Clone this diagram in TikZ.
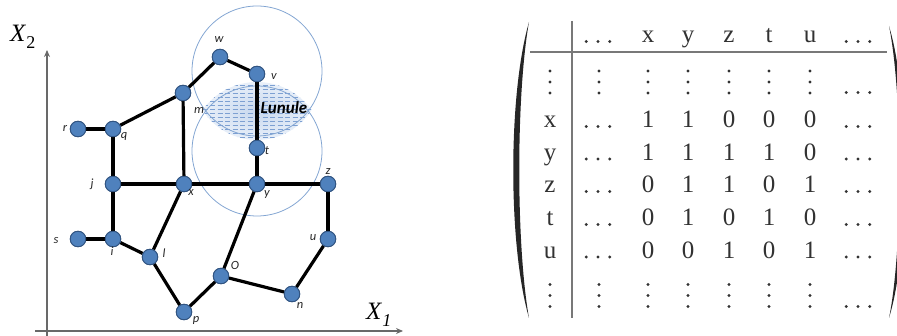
\documentclass[tikz,border=0pt]{standalone}
\usepackage{fontspec}
\setmainfont{Liberation Serif}
\newfontfamily\lblfont{Carlito}
\usetikzlibrary{arrows.meta,calc}
\definecolor{nodefill}{RGB}{79,129,189}
\definecolor{nodeedge}{RGB}{50,85,130}
\definecolor{ringcol}{RGB}{130,165,210}
\definecolor{axiscol}{RGB}{105,105,105}
\definecolor{rulecol}{RGB}{120,120,120}
\definecolor{txtcol}{RGB}{50,50,50}
\definecolor{lensdash}{RGB}{125,160,210}
\tikzset{
 vert/.style={circle, fill=nodefill, draw=nodeedge, line width=0.9pt, minimum size=15.5pt, inner sep=0pt},
 lbl/.style={font=\lblfont\itshape\fontsize{12.5}{12.5}\selectfont, text=black!85, inner sep=0pt},
 edge/.style={line width=3.2pt, black},
 thickedge/.style={line width=4pt, black},
 axis/.style={axiscol, line width=1.2pt, -{Stealth[length=7pt,width=6pt]}},
 ring/.style={ringcol, line width=0.8pt},
 mtx/.style={font=\fontsize{25}{25}\selectfont, text=txtcol, anchor=base, inner sep=0pt},
 rulel/.style={rulecol, line width=1.1pt},
}
\newcommand\hdotsat[2]{\begin{scope}[shift={(#1,#2)}]\foreach \dd in {-11.7,0,11.7}{\fill[txtcol] (\dd,0) circle (1.6);}\end{scope}}
\newcommand\vdotsat[2]{\begin{scope}[shift={(#1,#2)}]\foreach \dd in {-11,0,11}{\fill[txtcol] (0,\dd) circle (1.6);}\end{scope}}
\begin{document}
\begin{tikzpicture}[x=1pt,y=-1pt]
\useasboundingbox (0,0) rectangle (897,336);
% ---------- lens and circles ----------
\begin{scope}
 \clip (257,149) circle (67);
 \clip (257,75.5) circle (64.5);
 \shade[inner color={rgb,255:red,200;green,216;blue,238}, outer color={rgb,255:red,236;green,242;blue,250}] (257,111) ellipse (60 and 32);
 \foreach \yy in {85,89,...,141}{\draw[lensdash, line width=0.55pt, dash pattern=on 5pt off 2.5pt] (195,\yy) -- (320,\yy);}
\end{scope}
\draw[ring] (257,71) circle (65);
\draw[ring] (257,151) circle (65);
% ---------- axes ----------
\coordinate (vbot) at (47,336);
\coordinate (vtop) at (47,50);
\coordinate (hleft) at (35,331);
\coordinate (hright) at (403,331);
\draw[axis] (vbot) -- (vtop);
\draw[axis] (hleft) -- (hright);
\node[anchor=base west, inner sep=0pt] (lx2) at (10,42) {\fontsize{25}{25}\selectfont\textit{X}\raisebox{-7pt}{\fontsize{18}{18}\selectfont 2}};
\node[anchor=base west, inner sep=0pt] (lx1) at (366,320) {\fontsize{25}{25}\selectfont\textit{X}\raisebox{-7pt}{\fontsize{18}{18}\selectfont\textit{1}}};
% ---------- vertices ----------
\node[vert] (w) at (220,57) {};
\node[vert] (v) at (257,74) {};
\node[vert] (m) at (183,93) {};
\node[vert] (q) at (113,129) {};
\node[vert] (r) at (78,129) {};
\node[vert] (t) at (257,148) {};
\node[vert] (j) at (113,184) {};
\node[vert] (x) at (184,184) {};
\node[vert] (y) at (257,184) {};
\node[vert] (z) at (328,184) {};
\node[vert] (s) at (78,239) {};
\node[vert] (i) at (113,239) {};
\node[vert] (u) at (328,239) {};
\node[vert] (l) at (150,257) {};
\node[vert] (O) at (221,276) {};
\node[vert] (n) at (292,294) {};
\node[vert] (p) at (184,312) {};
% ---------- edges ----------
\draw[thickedge] (r) -- (q);
\draw[thickedge] (s) -- (i);
\draw[thickedge] (q) -- (j);
\draw[thickedge] (j) -- (i);
\draw[thickedge] (j) -- (x);
\draw[edge] (q) -- (m);
\draw[edge] (m) -- (w);
\draw[edge] (w) -- (v);
\draw[edge] (v) -- (t);
\draw[edge] (t) -- (y);
\draw[edge] (m) -- (x);
\draw[edge] (x) -- (y);
\draw[edge] (y) -- (z);
\draw[edge] (z) -- (u);
\draw[edge] (u) -- (n);
\draw[edge] (n) -- (O);
\draw[edge] (O) -- (y);
\draw[edge] (O) -- (p);
\draw[edge] (p) -- (l);
\draw[edge] (l) -- (x);
\draw[edge] (l) -- (i);
% redraw vertices on top
\foreach \nn in {w,v,m,q,r,t,j,x,y,z,s,i,u,l,O,n,p}{\node[vert] at (\nn) {};}
% ---------- vertex labels ----------
\node[lbl] (lw) at (219,40) {w};
\node[lbl] (lv) at (274,77) {v};
\node[lbl] (lm) at (199,110) {m};
\node[lbl] (lr) at (65,128) {r};
\node[lbl] (lq) at (124,136) {q};
\node[lbl] (lt) at (267,151) {t};
\node[lbl] (lj) at (92,184) {j};
\node[lbl] (lxx) at (191,193) {x};
\node[lbl] (ly) at (267,195) {y};
\node[lbl] (lz) at (328,172) {z};
\node[lbl] (ls) at (56,241) {s};
\node[lbl] (li) at (112,251) {i};
\node[lbl] (ll) at (164,253) {l};
\node[lbl] (lu) at (313,238) {u};
\node[lbl] (lO) at (235,265) {O};
\node[lbl] (ln) at (300,305) {n};
\node[lbl] (lp) at (196,320) {p};
\node[font=\lblfont\bfseries\itshape\fontsize{17}{17}\selectfont, inner sep=0pt] (lun) at (284,108) {Lunule};
% ---------- matrix ----------
\fill[black!85] (529,22) .. controls (508,95) and (508,245) .. (529,318) .. controls (516,245) and (516,95) .. (529,22) -- cycle;
\fill[black!85] (889,26) .. controls (910,95) and (910,250) .. (889,318) .. controls (903,250) and (903,95) .. (889,26) -- cycle;
\coordinate (vrt) at (572,21);
\coordinate (vrb) at (572,318);
\coordinate (hrl) at (530,52);
\coordinate (hrr) at (887,52);
\draw[rulel] (vrt) -- (vrb);
\draw[rulel] (hrl) -- (hrr);
% header
\hdotsat{598}{41.5}
\node[mtx] (hx) at (648,43) {x};
\node[mtx] (hy) at (688,43) {y};
\node[mtx] (hz) at (729,43) {z};
\node[mtx] (ht) at (769,43) {t};
\node[mtx] (hu) at (810,43) {u};
\hdotsat{858}{41.5}
% vdots rows
\foreach \xx in {550,599,648,688,729,769,810}{\vdotsat{\xx}{82}\vdotsat{\xx}{295.5}}
\hdotsat{858}{92.5}
\hdotsat{858}{306.5}
% number rows
\foreach \lab/\yy/\a/\b/\c/\d/\e [count=\k] in {x/128/1/1/0/0/0, y/160.5/1/1/1/1/0, z/193/0/1/1/0/1, t/226/0/1/0/1/0, u/258.5/0/0/1/0/1}{
 \node[mtx] (rl\k) at (550,\yy) {\lab};
 \node[mtx] (ca\k) at (648,\yy) {\a};
 \node[mtx] (cb\k) at (688,\yy) {\b};
 \node[mtx] (cc\k) at (729,\yy) {\c};
 \node[mtx] (cd\k) at (769,\yy) {\d};
 \node[mtx] (ce\k) at (810,\yy) {\e};
 \hdotsat{598}{\yy-1.5}
 \hdotsat{858}{\yy-1.5}
}
\end{tikzpicture}
\end{document}
